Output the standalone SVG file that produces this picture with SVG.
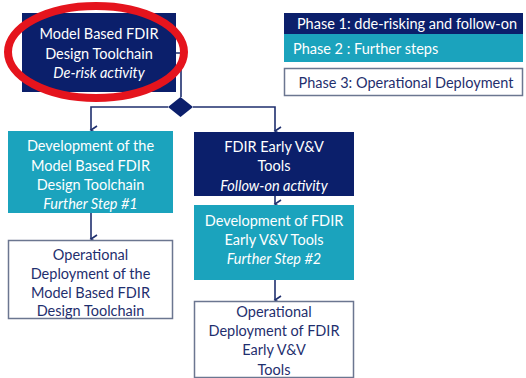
<svg xmlns="http://www.w3.org/2000/svg" width="526" height="378" viewBox="0 0 526 378">
<defs>
<style>
text{font-family:Lato,"Open Sans","Liberation Sans",sans-serif;font-size:14.5px;text-anchor:middle;dominant-baseline:central}
.w{fill:#ffffff}
.n{fill:#1f2f6e}
.i{font-style:italic}
.navy{fill:#0b1f6b}
.teal{fill:#1ba3bd}
.white{fill:#ffffff;stroke:#6b7690;stroke-width:1.5}
.c{fill:none;stroke:#1f2f6e;stroke-width:1.6}
</style>
<marker id="ar" markerWidth="10" markerHeight="10" refX="5" refY="8" orient="auto" markerUnits="userSpaceOnUse" viewBox="0 0 10 10">
<polyline points="1,2 5,8 9,2" fill="none" stroke="#1f2f6e" stroke-width="1.6"/>
</marker>
</defs>
<rect width="526" height="378" fill="#ffffff"/>
<g id="legend">
<rect x="284" y="13" width="239" height="21" class="navy"/>
<text x="407" y="23.5" class="w">Phase 1: dde-risking and follow-on</text>
<rect x="284" y="34" width="239" height="28" class="teal"/>
<text x="293" y="48" class="w" style="text-anchor:start">Phase 2 : Further steps</text>
<rect x="284.5" y="68.5" width="238" height="27" class="white"/>
<text x="406" y="82" class="n">Phase 3: Operational Deployment</text>
</g>
<g id="connectors">
<polyline class="c" points="176,53 181,53 181,97"/>
<polyline class="c" points="168,107 91,107 91,130" marker-end="url(#ar)"/>
<polyline class="c" points="193,107 275,107 275,131" marker-end="url(#ar)"/>
<line class="c" x1="275" y1="196" x2="275" y2="204" marker-end="url(#ar)"/>
<line class="c" x1="275" y1="280" x2="275" y2="300" marker-end="url(#ar)"/>
<line class="c" x1="91" y1="213" x2="91" y2="239" marker-end="url(#ar)"/>
<polygon id="decision" points="180.5,97 193,107 180.5,117 168,107" class="navy"/>
</g>
<g id="n1">
<rect x="22" y="13" width="154" height="79" class="navy"/>
<text x="99" y="33" class="w">Model Based FDIR</text>
<text x="99" y="53" class="w">Design Toolchain</text>
<text x="99" y="72" class="w i">De-risk activity</text>
</g>
<g id="n2">
<rect x="8" y="131" width="165" height="82" class="teal"/>
<text x="90.5" y="145" class="w">Development of the</text>
<text x="90.5" y="165" class="w">Model Based FDIR</text>
<text x="90.5" y="184" class="w">Design Toolchain</text>
<text x="90.5" y="203" class="w i">Further Step #1</text>
</g>
<g id="n3">
<rect x="8.5" y="240.5" width="164" height="78" class="white"/>
<text x="90.5" y="254" class="n">Operational</text>
<text x="90.5" y="273" class="n">Deployment of the</text>
<text x="90.5" y="292" class="n">Model Based FDIR</text>
<text x="90.5" y="310" class="n">Design Toolchain</text>
</g>
<g id="n4">
<rect x="194" y="132" width="160" height="64" class="navy"/>
<text x="274" y="146" class="w">FDIR Early V&amp;V</text>
<text x="274" y="165" class="w">Tools</text>
<text x="274" y="185" class="w i">Follow-on activity</text>
</g>
<g id="n5">
<rect x="194" y="205" width="160" height="75" class="teal"/>
<text x="274" y="220" class="w">Development of FDIR</text>
<text x="274" y="239" class="w">Early V&amp;V Tools</text>
<text x="274" y="258" class="w i">Further Step #2</text>
</g>
<g id="n6">
<rect x="194.5" y="301.5" width="159" height="76" class="white"/>
<text x="274" y="311" class="n">Operational</text>
<text x="274" y="330" class="n">Deployment of FDIR</text>
<text x="274" y="349" class="n">Early V&amp;V</text>
<text x="274" y="369" class="n">Tools</text>
</g>
<ellipse cx="96" cy="52" rx="88" ry="46" fill="none" stroke="#e5141d" stroke-width="8"/>
</svg>
